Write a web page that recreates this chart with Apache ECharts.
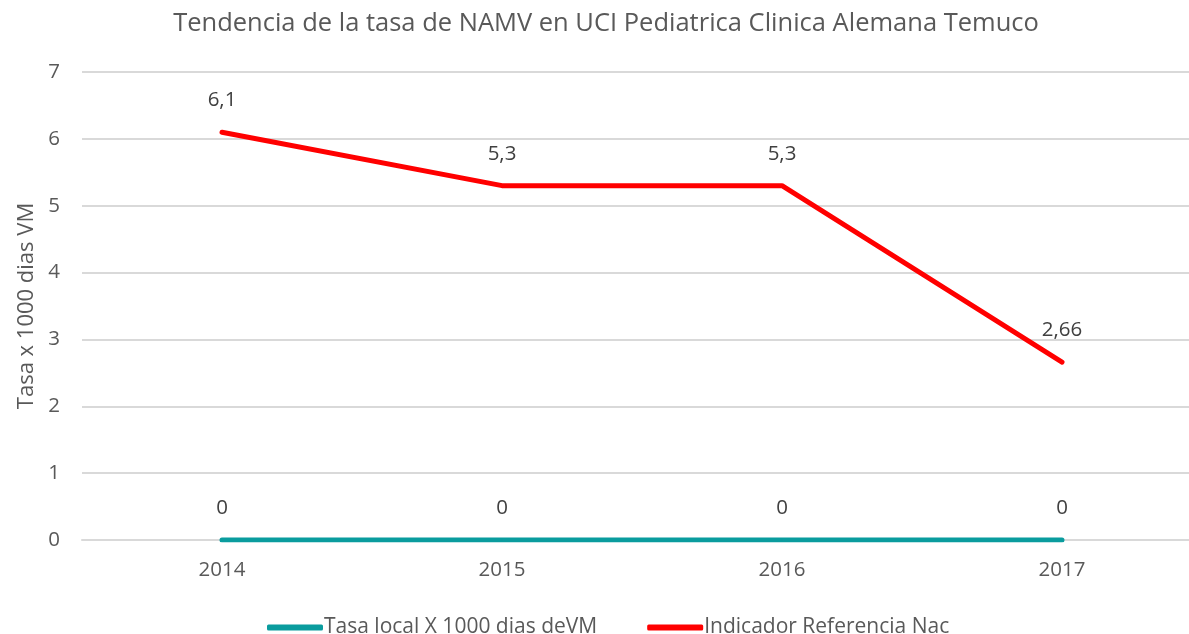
<!DOCTYPE html>
<html>
<head>
<meta charset="utf-8">
<script src="https://cdn.jsdelivr.net/npm/echarts@6/dist/echarts.min.js"></script>
<style>
  html, body { margin: 0; padding: 0; background: #fff; }
  #char { width: 1189px; height: 634px; }
</style>
</head>
<body>
<div id="char"></div>
<script>
var years = ['2014', '2015', '2016', '2017'];
var tasaLocal = [0, 0, 0, 0];
var indicadorRef = [6.1, 5.3, 5.3, 2.66];

var fontName = 'Open Sans';
var gris = '#595959';

function coma(p) {
  return String(p.value).replace('.', ',');
}

var myChart = echarts.init(document.getElementById('char'));
var option = {
  animation: false,
  textStyle: { fontFamily: fontName },
  title: {
    text: 'Tendencia de la tasa de NAMV en UCI Pediatrica Clinica Alemana Temuco',
    left: 601,
    textAlign: 'center',
    top: 6,
    textStyle: { fontFamily: fontName, fontSize: 25.5, fontWeight: 'normal', color: gris }
  },
  legend: {
    top: 612,
    left: 262,
    itemGap: 50,
    itemWidth: 56,
    itemHeight: 6,
    icon: 'roundRect',
    textStyle: { fontFamily: fontName, fontSize: 21, color: gris, padding: [0, 0, 0, -4] },
    data: ['Tasa local X 1000 dias deVM', 'Indicador Referencia Nac']
  },
  grid: {
    left: 82,
    width: 1120,
    top: 72,
    bottom: 94,
    outerBoundsMode: 'none',
    containLabel: false
  },
  xAxis: {
    type: 'category',
    data: years,
    boundaryGap: true,
    axisLine: { show: true, lineStyle: { color: '#d9d9d9', width: 2 } },
    axisTick: { show: false },
    axisLabel: { color: gris, fontSize: 20.5, margin: 20, fontFamily: fontName }
  },
  yAxis: {
    type: 'value',
    min: 0,
    max: 7,
    interval: 1,
    name: 'Tasa x 1000 dias VM',
    nameLocation: 'middle',
    nameGap: 44,
    nameRotate: 90,
    nameTextStyle: { color: gris, fontSize: 22, fontFamily: fontName },
    axisLine: { show: false },
    axisTick: { show: false },
    axisLabel: { color: gris, fontSize: 20.5, margin: 22, fontFamily: fontName },
    splitLine: { lineStyle: { color: '#d9d9d9', width: 2 } }
  },
  series: [
    {
      name: 'Tasa local X 1000 dias deVM',
      type: 'line',
      data: tasaLocal,
      symbol: 'circle',
      symbolSize: 1,
      showSymbol: true,
      z: 3,
      itemStyle: { color: '#0a9c9e' },
      lineStyle: { color: '#0a9c9e', width: 5, cap: 'round' },
      label: {
        show: true,
        position: 'top',
        distance: 21,
        color: '#404040',
        fontSize: 20.5,
        fontFamily: fontName,
        formatter: coma
      }
    },
    {
      name: 'Indicador Referencia Nac',
      type: 'line',
      data: indicadorRef,
      symbol: 'circle',
      symbolSize: 1,
      showSymbol: true,
      z: 4,
      itemStyle: { color: '#ff0000' },
      lineStyle: { color: '#ff0000', width: 5, cap: 'round', join: 'round' },
      label: {
        show: true,
        position: 'top',
        distance: 21,
        color: '#404040',
        fontSize: 20.5,
        fontFamily: fontName,
        formatter: coma
      }
    }
  ]
};
myChart.setOption(option);
</script>
</body>
</html>
